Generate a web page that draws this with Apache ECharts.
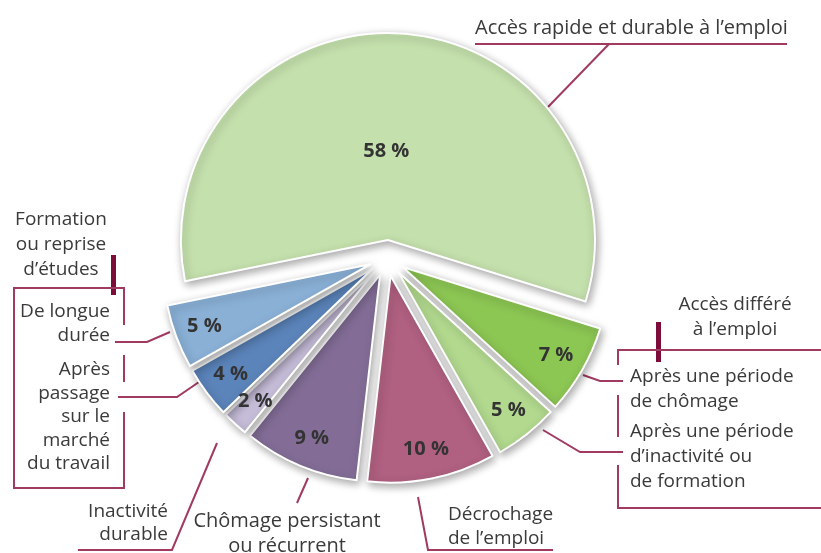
<!DOCTYPE html>
<html>
<head>
<meta charset="utf-8">
<script src="https://cdn.jsdelivr.net/npm/echarts@6/dist/echarts.min.js"></script>
<style>
  html, body { margin: 0; background: #fff; }
  #chart { width: 821px; height: 553px; }
</style>
</head>
<body>
<div id="chart"></div>
<script>
// parts, dans le sens horaire à partir de la grande part verte
const names = [
  'Accès rapide et durable à l’emploi',
  'Après une période de chômage',
  'Après une période d’inactivité ou de formation',
  'Décrochage de l’emploi',
  'Chômage persistant ou récurrent',
  'Inactivité durable',
  'Après passage sur le marché du travail',
  'De longue durée'
];
const values = [58, 7, 5, 10, 9, 2, 4, 5];
// libellés coupés comme sur le dessin
const labelLines = [
  ['Accès rapide et durable à l’emploi'],
  ['Après une période', 'de chômage'],
  ['Après une période', 'd’inactivité ou', 'de formation'],
  ['Décrochage', 'de l’emploi'],
  ['Chômage persistant', 'ou récurrent'],
  ['Inactivité', 'durable'],
  ['Après', 'passage', 'sur le', 'marché', 'du travail'],
  ['De longue', 'durée']
];
const groupTitles = [
  ['Accès différé', 'à l’emploi'],
  ['Formation', 'ou reprise', 'd’études']
];
const colors = ['#c4e0ac', '#8cc653', '#b2d98e', '#b06080', '#836d97', '#c6bdd9', '#5b84ba', '#8ab0d6'];

const maroon = '#a03a60';
const darkMaroon = '#7c0d38';
const font = '"Open Sans", sans-serif';

const chart = echarts.init(document.getElementById('chart'));

// texte des annotations
function txt(lines, x, y, align, lh, size) {
  return {
    type: 'text',
    style: {
      text: lines.join('\n'), x: x, y: y, align: align, verticalAlign: 'top',
      fontFamily: font, fontSize: size || 19, lineHeight: lh, fill: '#3a3a3a'
    }
  };
}
function line(points) {
  return {
    type: 'polyline',
    shape: { points: points },
    style: { stroke: maroon, lineWidth: 2, fill: null }
  };
}
function tick(x, y, h) {
  return { type: 'rect', shape: { x: x, y: y, width: 5, height: h }, style: { fill: darkMaroon } };
}

const graphics = [
  // grande part
  txt(labelLines[0], 475, 15, 'left', 26, 20),
  line([[475, 44], [787, 44]]),
  line([[609, 44], [548, 107]]),
  // accès différé
  txt(groupTitles[0], 735, 292, 'center', 25),
  tick(656, 322, 40),
  line([[821, 350], [618, 350], [618, 365]]),
  line([[618, 395], [618, 437]]),
  line([[618, 465], [618, 508], [821, 508]]),
  txt(labelLines[1], 630, 364, 'left', 25),
  txt(labelLines[2], 630, 419, 'left', 25),
  line([[583, 375], [600, 381], [623, 381]]),
  line([[543, 430], [580, 452], [623, 452]]),
  // formation ou reprise d'études
  txt(groupTitles[1], 61, 207, 'center', 25),
  tick(111, 255, 40),
  line([[124, 325], [124, 288], [14, 288], [14, 488], [124, 488], [124, 412]]),
  line([[124, 355], [124, 382]]),
  txt(labelLines[7], 110, 300, 'right', 24),
  txt(labelLines[6], 110, 358, 'right', 23.5),
  line([[115, 342], [147, 342], [170, 332]]),
  line([[118, 397], [177, 397], [199, 382]]),
  // bas
  txt(labelLines[5], 168, 500, 'right', 23),
  line([[78, 550], [172, 550], [217, 443]]),
  txt(labelLines[4], 287, 509, 'center', 25, 20),
  line([[308, 478], [297, 503]]),
  txt(labelLines[3], 448, 503, 'left', 24),
  line([[418, 497], [428, 550], [553, 550]])
];

const mainData = values.map((v, i) => ({
  value: v, name: names[i], selected: true, itemStyle: { color: colors[i] }
}));
const labelData = values.map((v, i) => ({
  value: v, name: names[i], selected: true
}));

const pctLabel = { fontFamily: font, fontSize: 20, fontWeight: 'bold', color: '#333' };

const option = {
  animation: false,
  graphic: graphics,
  series: [
    {
      type: 'pie',
      center: [387, 258],
      radius: [0, 207],
      startAngle: 191.5,
      clockwise: true,
      selectedMode: 'multiple',
      selectedOffset: 18,
      avoidLabelOverlap: false,
      itemStyle: {
        borderColor: '#fff', borderWidth: 2,
        shadowBlur: 8, shadowColor: 'rgba(0,0,0,0.35)', shadowOffsetX: 2, shadowOffsetY: 3
      },
      label: Object.assign({
        show: true, position: 'inside',
        formatter: p => (p.dataIndex === 0 ? p.value + ' %' : '')
      }, pctLabel),
      labelLayout: p => (p.dataIndex === 0 ? { dx: -7, dy: 18 } : {}),
      labelLine: { show: false },
      emphasis: { disabled: true },
      data: mainData
    },
    {
      // anneau invisible qui porte les pourcentages des petites parts
      type: 'pie',
      silent: true,
      center: [387, 258],
      radius: [141, 207],
      startAngle: 191.5,
      clockwise: true,
      selectedMode: 'multiple',
      selectedOffset: 18,
      avoidLabelOverlap: false,
      itemStyle: { color: 'rgba(0,0,0,0)' },
      label: Object.assign({
        show: true, position: 'inside',
        formatter: p => (p.dataIndex === 0 ? '' : p.value + ' %')
      }, pctLabel),
      labelLine: { show: false },
      emphasis: { disabled: true },
      data: labelData
    }
  ]
};

chart.setOption(option);
</script>
</body>
</html>
